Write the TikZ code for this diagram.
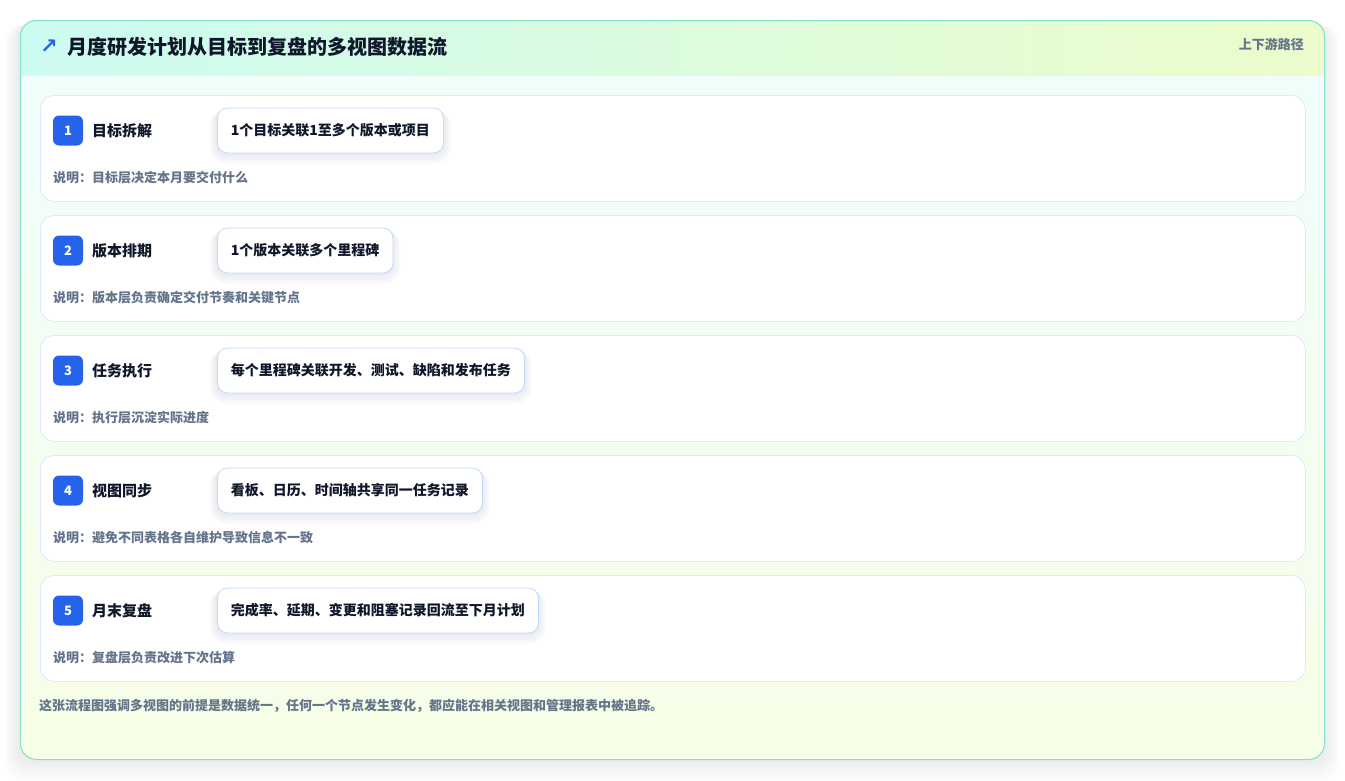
\documentclass[tikz,border=0pt]{standalone}
\usepackage{fontspec}
\setmainfont{Noto Sans CJK SC}
\newfontfamily\symfont{DejaVu Sans}
\definecolor{ink}{HTML}{0F172A}
\definecolor{muted}{HTML}{64748B}
\definecolor{accent}{HTML}{2563EB}
\definecolor{rowborder}{HTML}{DBEAFE}
\definecolor{pillborder}{HTML}{BFDBFE}
\definecolor{cardborder}{HTML}{7FE3CC}
\definecolor{headL}{HTML}{CCFBF1}
\definecolor{headR}{HTML}{ECFCCB}
\definecolor{bodyT}{HTML}{F0FDFA}
\definecolor{bodyB}{HTML}{F7FEE7}
\definecolor{shadowc}{HTML}{1E3A8A}
\tikzset{
  rowcard/.style={draw=rowborder, line width=0.8pt, fill=white, rounded corners=14pt},
  badge/.style={fill=accent, rounded corners=6pt, minimum width=30pt, minimum height=30pt, inner sep=0pt, text=white, font=\bfseries\fontsize{13}{13}\selectfont},
  steplabel/.style={anchor=west, inner sep=0pt, text=ink, font=\bfseries\fontsize{15}{15}\selectfont},
  pillshape/.style={anchor=west, minimum height=45pt, inner xsep=13.5pt, inner ysep=0pt, font=\bfseries\fontsize{14}{14}\selectfont},
  pill/.style={pillshape, draw=pillborder, line width=0.8pt, fill=white, rounded corners=10pt, text=ink},
  desc/.style={anchor=west, inner sep=0pt, text=muted, font=\bfseries\fontsize{13}{13}\selectfont},
}
\begin{document}
\begin{tikzpicture}[x=1pt,y=-1pt]
\useasboundingbox (0,0) rectangle (1345,780);
\fill[white] (0,0) rectangle (1345,780);
% outer shadow
\foreach \k in {1,...,10}{
  \fill[black, opacity=0.009, rounded corners=18pt] (20-\k*1.6,20+\k*0.6) rectangle (1324+\k*1.6,759+\k*2.2);
}
% outer card
\begin{scope}
  \clip[rounded corners=16pt] (20,20) rectangle (1324,759);
  \shade[top color=bodyT, bottom color=bodyB] (20,75) rectangle (1324,759);
  \shade[left color=headL, right color=headR] (20,20) rectangle (1324,75);
  \draw[color=headL!70!bodyT, line width=0.8pt] (20,75.5) -- (1324,75.5);
\end{scope}
\node[draw=cardborder, line width=1pt, rounded corners=16pt, minimum width=1304pt, minimum height=739pt, anchor=north west, inner sep=0pt] (card) at (20,20) {};
% header
\node[anchor=center, inner sep=0pt, text=accent, font=\symfont\bfseries\fontsize{21}{21}\selectfont] (arrow) at (49,47) {↗};
\node[anchor=west, inner sep=0pt, text=ink, font=\bfseries\fontsize{20}{20}\selectfont] (title) at (67,47) {月度研发计划从目标到复盘的多视图数据流};
\node[anchor=east, inner sep=0pt, text=muted, font=\bfseries\fontsize{13}{13}\selectfont] (tag) at (1304,44) {上下游路径};
% rows
\foreach \i/\lab/\pilltext/\desctext in {
  1/目标拆解/{1个目标关联1至多个版本或项目}/{说明：目标层决定本月要交付什么},
  2/版本排期/{1个版本关联多个里程碑}/{说明：版本层负责确定交付节奏和关键节点},
  3/任务执行/{每个里程碑关联开发、测试、缺陷和发布任务}/{说明：执行层沉淀实际进度},
  4/视图同步/{看板、日历、时间轴共享同一任务记录}/{说明：避免不同表格各自维护导致信息不一致},
  5/月末复盘/{完成率、延期、变更和阻塞记录回流至下月计划}/{说明：复盘层负责改进下次估算}}{
  \pgfmathsetmacro{\top}{95+120*(\i-1)}
  \node[rowcard, minimum width=1265pt, minimum height=106pt, anchor=north west, inner sep=0pt] (row\i) at (40,\top) {};
  \node[badge] (badge\i) at (68,\top+35.5) {\i};
  \node[steplabel] (lab\i) at (92,\top+35.5) {\lab};
  \node[pillshape, text opacity=0] (ghost\i) at (217,\top+35.5) {\pilltext};
  \foreach \s in {1,...,7}{
    \fill[shadowc, opacity=0.012, rounded corners=10pt+\s pt]
      ([xshift=-\s*1.1pt, yshift=-\s*0.3pt]ghost\i.north west) rectangle ([xshift=\s*1.1pt, yshift=-\s*1.6pt]ghost\i.south east);
  }
  \node[pill] (pill\i) at (217,\top+35.5) {\pilltext};
  \node[desc] (desc\i) at (53,\top+83) {\desctext};
}
\node[anchor=west, inner sep=0pt, text=muted, font=\bfseries\fontsize{13}{13}\selectfont] (footer) at (39,706) {这张流程图强调多视图的前提是数据统一，任何一个节点发生变化，都应能在相关视图和管理报表中被追踪。};
\end{tikzpicture}
\end{document}
